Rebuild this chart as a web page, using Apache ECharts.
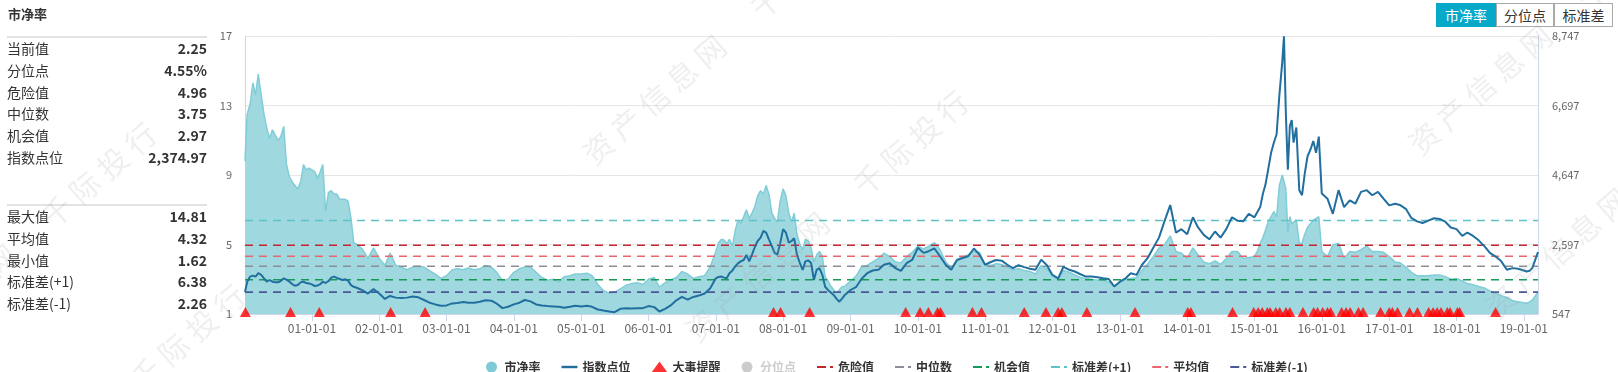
<!DOCTYPE html>
<html><head><meta charset="utf-8">
<script src="https://cdn.jsdelivr.net/npm/echarts@6/dist/echarts.min.js"></script>
<style>
body{margin:0;background:#fff;font-family:"Microsoft YaHei","Noto Sans CJK SC","Noto Sans",sans-serif;}
#wrap{position:relative;width:1618px;height:372px;overflow:hidden;background:#fff;}
#chart{position:absolute;left:0;top:0;width:1618px;height:372px;}
#title{position:absolute;left:8px;top:5px;font-size:13px;font-weight:bold;color:#333;line-height:18px;}
.panel{position:absolute;left:7px;width:200px;border-top:2px solid #e3e3e3;}
.row{display:flex;justify-content:space-between;height:21.8px;line-height:21.8px;font-size:14px;color:#333;}
.row b{font-weight:bold;}
#btns{position:absolute;left:1436px;top:3px;display:flex;height:24px;}
.btn{box-sizing:border-box;height:24px;line-height:22px;font-size:14px;text-align:center;border:1px solid #aaa;color:#333;background:#fff;}
.btn.on{background:#07a9c9;border-color:#07a9c9;color:#fff;}
.wm{position:absolute;white-space:nowrap;font-size:30px;line-height:30px;height:30px;letter-spacing:7px;color:rgba(160,160,160,0.17);transform-origin:0 50%;transform:rotate(-41deg);pointer-events:none;}
</style></head>
<body><div id="wrap"><div id="chart"></div>
<div id="title">市净率</div>
<div class="panel" id="p1" style="top:36px"></div>
<div class="panel" id="p2" style="top:204px"></div>
<div id="btns"></div>
<div id="wms"></div>
</div>
<script>
// ---- data ----
const dates = (
"2000-01-04 2000-01-16 2000-02-01 2000-02-16 2000-03-01 2000-03-16 2000-04-01 2000-04-16 2000-05-01 2000-05-16 2000-06-01 2000-06-16 2000-07-01 2000-07-16 2000-08-01 2000-08-16 2000-09-01 2000-09-16 2000-10-01 2000-10-16 2000-11-01 2000-11-16 2000-12-01 2000-12-16 " +
"2001-01-01 2001-01-16 2001-02-01 2001-02-16 2001-03-01 2001-03-16 2001-04-01 2001-04-16 2001-05-01 2001-05-16 2001-06-01 2001-06-16 2001-07-01 2001-07-16 2001-08-01 2001-08-16 2001-09-01 2001-10-01 2001-11-01 2001-12-01 " +
"2002-01-01 2002-02-01 2002-03-01 2002-04-01 2002-05-01 2002-06-01 2002-07-01 2002-08-01 2002-09-01 2002-10-01 2002-11-01 2002-12-01 " +
"2003-01-01 2003-02-01 2003-03-01 2003-04-01 2003-05-01 2003-06-01 2003-07-01 2003-08-01 2003-09-01 2003-10-01 2003-11-01 2003-12-01 " +
"2004-01-01 2004-02-01 2004-03-01 2004-04-01 2004-05-01 2004-06-01 2004-07-01 2004-08-01 2004-09-01 2004-10-01 2004-11-01 2004-12-01 " +
"2005-01-01 2005-02-01 2005-03-01 2005-04-01 2005-05-01 2005-06-01 2005-07-01 2005-08-01 2005-09-01 2005-10-01 2005-11-01 2005-12-01 " +
"2006-01-01 2006-02-01 2006-03-01 2006-04-01 2006-05-01 2006-06-01 2006-07-01 2006-08-01 2006-09-01 2006-10-01 2006-11-01 2006-12-01 " +
"2007-01-01 2007-01-16 2007-02-01 2007-02-16 2007-03-01 2007-03-16 2007-04-01 2007-04-16 2007-05-01 2007-05-16 2007-06-01 2007-06-16 2007-07-01 2007-07-16 2007-08-01 2007-08-16 2007-09-01 2007-09-16 2007-10-01 2007-10-16 2007-11-01 2007-11-16 2007-12-01 2007-12-16 " +
"2008-01-01 2008-01-16 2008-02-01 2008-02-16 2008-03-01 2008-03-16 2008-04-01 2008-04-16 2008-05-01 2008-05-16 2008-06-01 2008-06-16 2008-07-01 2008-07-16 2008-08-01 2008-08-16 2008-09-01 2008-09-16 2008-10-01 2008-10-16 2008-11-01 2008-11-16 2008-12-01 2008-12-16 " +
"2009-01-01 2009-02-01 2009-03-01 2009-04-01 2009-05-01 2009-06-01 2009-07-01 2009-08-01 2009-09-01 2009-10-01 2009-11-01 2009-12-01 " +
"2010-01-01 2010-02-01 2010-03-01 2010-04-01 2010-05-01 2010-06-01 2010-07-01 2010-08-01 2010-09-01 2010-10-01 2010-11-01 2010-12-01 " +
"2011-01-01 2011-02-01 2011-03-01 2011-04-01 2011-05-01 2011-06-01 2011-07-01 2011-08-01 2011-09-01 2011-10-01 2011-11-01 2011-12-01 " +
"2012-01-01 2012-02-01 2012-03-01 2012-04-01 2012-05-01 2012-06-01 2012-07-01 2012-08-01 2012-09-01 2012-10-01 2012-11-01 2012-12-01 " +
"2013-01-01 2013-02-01 2013-03-01 2013-04-01 2013-05-01 2013-06-01 2013-07-01 2013-08-01 2013-09-01 2013-10-01 2013-11-01 2013-12-01 " +
"2014-01-01 2014-02-01 2014-03-01 2014-04-01 2014-05-01 2014-06-01 2014-07-01 2014-08-01 2014-09-01 2014-10-01 2014-11-01 2014-12-01 " +
"2015-01-01 2015-01-16 2015-02-01 2015-02-16 2015-03-01 2015-03-16 2015-04-01 2015-04-16 2015-05-01 2015-05-16 2015-06-01 2015-06-10 2015-06-20 2015-07-01 2015-07-12 2015-07-22 2015-08-01 2015-08-16 2015-09-01 2015-09-16 2015-10-01 2015-10-16 2015-11-01 2015-11-16 2015-12-01 2015-12-16 " +
"2016-01-01 2016-02-01 2016-03-01 2016-04-01 2016-05-01 2016-06-01 2016-07-01 2016-08-01 2016-09-01 2016-10-01 2016-11-01 2016-12-01 " +
"2017-01-01 2017-02-01 2017-03-01 2017-04-01 2017-05-01 2017-06-01 2017-07-01 2017-08-01 2017-09-01 2017-10-01 2017-11-01 2017-12-01 " +
"2018-01-01 2018-02-01 2018-03-01 2018-04-01 2018-05-01 2018-06-01 2018-07-01 2018-08-01 2018-09-01 2018-10-01 2018-11-01 2018-12-01 " +
"2019-01-01 2019-01-16 2019-02-01 2019-02-16 2019-03-01 2019-03-19").split(" ");

// 市净率 (PB), left axis
const pbValues = [
 9.8,12.5,13.1,14.3,13.6,14.81,13.6,12.5,11.7,11.1,11.6,11.3,11.0,11.2,11.8,9.6,8.9,8.6,8.4,8.2,8.6,9.6,9.3,9.4,
 9.3,9.2,8.8,9.2,9.6,6.9,8.0,8.1,7.9,7.9,7.6,7.6,7.6,7.5,6.5,5.1,5.0,4.75,4.2,4.8,
 4.2,3.8,4.5,3.8,3.7,3.55,3.7,3.75,3.7,3.5,3.3,3.05,
 3.2,3.55,3.6,3.55,3.65,3.55,3.6,3.8,3.7,3.4,2.9,3.0,
 3.4,3.6,3.7,3.7,3.4,3.1,2.95,3.0,2.85,3.15,3.2,3.3,
 3.3,3.35,3.2,2.7,2.35,2.2,2.25,2.45,2.65,2.75,2.8,2.7,
 3.0,3.1,2.55,2.8,2.96,3.1,3.45,3.3,3.05,3.15,3.2,3.7,
 4.6,5.1,5.3,5.25,5.05,5.3,4.9,5.8,6.4,6.2,6.6,7.0,6.5,6.8,7.2,7.8,8.1,7.9,8.4,7.9,6.8,6.5,6.3,7.5,
 8.2,7.8,6.8,6.3,6.8,5.6,5.0,4.7,5.3,5.2,4.8,4.0,4.4,4.6,4.3,3.15,2.9,2.6,2.4,2.2,2.4,2.57,2.6,2.75,
 2.9,3.2,3.7,3.8,4.0,4.2,4.5,4.3,4.0,3.95,4.3,4.55,
 4.9,4.75,4.9,5.1,4.7,4.0,3.65,4.1,4.3,4.4,4.6,4.55,
 3.8,3.8,3.9,3.85,3.7,3.55,3.6,3.5,3.45,3.3,3.8,3.6,
 3.2,3.0,3.5,3.4,3.25,3.1,3.05,3.0,2.95,2.95,2.85,2.6,
 2.8,3.0,3.05,3.1,3.5,3.9,4.3,4.8,5.0,5.5,4.6,4.5,
 4.2,4.8,4.4,4.0,3.9,4.05,3.85,4.2,4.6,4.6,4.2,4.25,
 4.3,4.6,5.07,5.4,5.8,6.3,6.6,6.9,6.6,8.4,9.0,9.1,8.2,5.7,6.6,6.2,6.3,6.4,5.07,5.07,5.6,6.0,6.2,6.4,6.5,6.6,
 4.6,4.3,4.97,5.07,4.2,4.6,4.55,4.7,4.9,4.6,4.6,4.55,
 4.3,4.0,3.95,3.7,3.4,3.2,3.2,3.2,3.25,3.25,3.15,3.0,
 3.05,2.9,2.75,2.68,2.58,2.5,2.33,2.2,2.05,1.95,1.76,1.7,
 1.65,1.62,1.7,1.8,2.0,2.25
];

// 指数点位 (index level), right axis
const indexValues = [
 1200,1500,1650,1680,1650,1750,1700,1600,1500,1550,1500,1480,1480,1520,1600,1560,1500,1430,1380,1400,1480,1500,1460,1450,
 1420,1370,1390,1430,1500,1460,1520,1620,1650,1610,1580,1550,1570,1530,1400,1350,1320,1250,1150,1280,
 1150,990,1080,1030,1020,1030,1060,1040,960,880,830,790,
 800,860,870,900,880,880,910,950,940,850,720,760,
 830,880,960,920,830,800,780,770,760,730,760,790,
 770,790,760,680,650,620,600,700,720,710,715,720,
 780,750,620,700,800,950,1050,970,1050,1090,1150,1300,
 1600,1640,1650,1620,1600,1750,1830,1950,2040,2100,2140,2290,2100,2300,2530,2700,2800,3000,2950,2750,2550,2350,2300,2630,
 3050,2950,2650,2700,2780,2300,2050,1850,2100,2130,2050,1550,1850,1900,1700,1350,1250,1180,1110,1000,910,1000,1110,1180,
 1255,1350,1580,1750,1830,1850,2000,2043,1900,1820,2050,2140,
 2500,2350,2400,2480,2250,2000,1850,2140,2200,2250,2480,2300,
 2000,2080,2140,2120,2000,1900,1990,1930,1880,1850,2150,1990,
 1700,1600,1940,1850,1800,1720,1650,1650,1630,1600,1580,1360,
 1500,1600,1750,1700,2000,2200,2500,2800,3300,3760,2950,3050,
 2900,3400,3100,2880,2750,2980,2800,3050,3400,3300,3280,3500,
 3400,3550,3700,4100,4350,4800,5300,5600,5850,7000,8000,8740,6500,4800,6100,6270,5600,6050,4200,4050,4700,5200,5400,5650,5300,5780,
 4100,3950,3500,4200,3700,3900,3800,4150,4200,4050,4150,3950,
 3750,3800,3760,3650,3380,3280,3230,3300,3370,3350,3270,3100,
 3050,2850,2950,2850,2720,2550,2350,2240,2100,1850,1900,1880,
 1830,1800,1820,1900,2100,2375
];

// 大事提醒 event dates
const eventDates = ['2000-01-06','2000-09-07','2001-02-10','2002-03-04','2002-09-07','2007-11-10','2007-12-18','2008-05-24',
 '2009-10-27','2010-01-13','2010-02-27','2010-04-18','2010-05-04','2010-10-24','2010-12-12','2011-08-01','2011-11-27',
 '2012-02-01','2012-02-21','2012-07-06','2013-03-24','2014-01-04','2014-01-21','2014-09-04','2014-12-28','2015-01-21',
 '2015-02-12','2015-03-12','2015-03-27','2015-04-27','2015-05-18','2015-06-21','2015-07-12','2015-09-21','2015-11-18',
 '2015-12-09','2016-01-06','2016-02-01','2016-02-18','2016-04-18','2016-05-12','2016-06-03','2016-07-18','2016-08-12',
 '2016-11-15','2017-01-01','2017-01-18','2017-02-15','2017-04-21','2017-06-03','2017-08-03','2017-08-27','2017-09-18',
 '2017-10-09','2017-11-12','2017-11-27','2018-01-06','2018-01-18','2018-08-01'];
const eventLevel = 1;

// reference levels
const refNames  = ['危险值','中位数','机会值','标准差(+1)','平均值','标准差(-1)'];
const refValues = [4.96, 3.75, 2.97, 6.38, 4.32, 2.26];
const refColors = ['#c2262e','#8b8e96','#169a57','#5ec3c6','#e8666d','#4a5895'];

// axis ticks
const pbTicks = [1, 5, 9, 13, 17];
const indexTicks = [547, 2597, 4647, 6697, 8747];

// side panel
const statLabels1 = ['当前值','分位点','危险值','中位数','机会值','指数点位'];
const statValues1 = ['2.25','4.55%','4.96','3.75','2.97','2,374.97'];
const statLabels2 = ['最大值','平均值','最小值','标准差(+1)','标准差(-1)'];
const statValues2 = ['14.81','4.32','1.62','6.38','2.26'];
const buttons = ['市净率','分位点','标准差'];
const buttonWidths = [60, 58, 59];
const watermarkText = '资产信息网\u3000千际投行';
// centre of the first character of each watermark copy
const watermarkSpots = [[597,147],[700,324],[1423,137],[1500,300],[-112,356],[-23,518]];

// ---- panel ----
function fill(id, labels, values){
  document.getElementById(id).innerHTML = labels.map((l,i)=>'<div class="row"><span>'+l+'</span><b>'+values[i]+'</b></div>').join('');
}
fill('p1', statLabels1, statValues1);
fill('p2', statLabels2, statValues2);
document.getElementById('btns').innerHTML = buttons.map((b,i)=>'<div class="btn'+(i===0?' on':'')+'" style="width:'+buttonWidths[i]+'px">'+b+'</div>').join('');
document.getElementById('wms').innerHTML = watermarkSpots.map(p=>'<div class="wm" style="left:'+(p[0]-11)+'px;top:'+(p[1]-5)+'px">'+watermarkText+'</div>').join('');

// ---- chart ----
const FONT = '"Microsoft YaHei","Noto Sans CJK SC","Noto Sans",sans-serif';
const AX = '#ccd6eb';
const DASH_ICON = 'path://M0,0H9V2H0Z M13,0H16V2H13Z';
const LINE_ICON = 'path://M0,0H16V2.4H0Z';
const chart = echarts.init(document.getElementById('chart'), null, {renderer:'canvas'});
const xStart = dates[0], xEnd = dates[dates.length-1];
const refSeries = refNames.map((n,i)=>({
  name:n, type:'line', yAxisIndex:0, symbol:'none', showSymbol:false, z:3, silent:true,
  data:[[xStart, refValues[i]],[xEnd, refValues[i]]],
  lineStyle:{color:refColors[i], width:1.6, type:[8,6]},
  itemStyle:{color:refColors[i]}
}));
const option = {
  animation:false,
  textStyle:{fontFamily:FONT},
  grid:{left:245, right:80, top:36, bottom:58},
  legend:{
    left:481, top:356, itemWidth:16, itemHeight:11, itemGap:21, symbolKeepAspect:true,
    textStyle:{fontSize:12, color:'#333', fontWeight:'bold', fontFamily:FONT},
    inactiveColor:'#cccccc',
    selected:{'分位点':false},
    data:[{name:'市净率',icon:'circle'},{name:'指数点位',icon:LINE_ICON},{name:'大事提醒',icon:'triangle'},{name:'分位点',icon:'circle'}]
      .concat(refNames.map(n=>({name:n, icon:DASH_ICON})))
  },
  xAxis:{
    type:'time', min:xStart, max:xEnd, splitNumber:20,
    minInterval:365*24*3600*1000, maxInterval:366*24*3600*1000,
    axisLine:{lineStyle:{color:AX}},
    axisTick:{show:true, length:7, lineStyle:{color:AX}},
    axisLabel:{formatter:'{yy}-{MM}-{dd}', color:'#666', fontSize:12, margin:8, showMinLabel:false, showMaxLabel:false, hideOverlap:false},
    splitLine:{show:false}
  },
  yAxis:[
    {type:'value', min:pbTicks[0], max:pbTicks[pbTicks.length-1], interval:pbTicks[1]-pbTicks[0],
     axisLine:{show:true, lineStyle:{color:AX}}, axisTick:{show:false},
     axisLabel:{color:'#666', fontSize:11, margin:13},
     splitLine:{lineStyle:{color:'#e6e6e6'}}},
    {type:'value', position:'right', min:indexTicks[0], max:indexTicks[indexTicks.length-1], interval:indexTicks[1]-indexTicks[0],
     axisLine:{show:true, lineStyle:{color:AX}}, axisTick:{show:false},
     axisLabel:{color:'#666', fontSize:11, margin:14, formatter:v=>Math.round(v).toLocaleString('en-US')},
     splitLine:{show:false}}
  ],
  series:[
    {name:'市净率', type:'line', yAxisIndex:0, symbol:'none', showSymbol:false, z:1,
     data:dates.map((d,i)=>[d,pbValues[i]]),
     lineStyle:{color:'#80cdd7', width:1.5},
     areaStyle:{color:'#a0d8e0', opacity:1},
     itemStyle:{color:'#7ecbd5'}},
    ...refSeries,
    {name:'指数点位', type:'line', yAxisIndex:1, symbol:'none', showSymbol:false, z:5,
     data:dates.map((d,i)=>[d,indexValues[i]]),
     lineStyle:{color:'#216f9e', width:2},
     itemStyle:{color:'#216f9e'}},
    {name:'大事提醒', type:'scatter', yAxisIndex:0, z:6, symbol:'triangle', symbolSize:[11,10], symbolOffset:[0,-2],
     data:eventDates.map(d=>[d,eventLevel]),
     itemStyle:{color:'#ff0000'}},
    {name:'分位点', type:'line', yAxisIndex:0, symbol:'none', data:[], itemStyle:{color:'#aaaaaa'}}
  ]
};
chart.setOption(option);
</script>
</body></html>
